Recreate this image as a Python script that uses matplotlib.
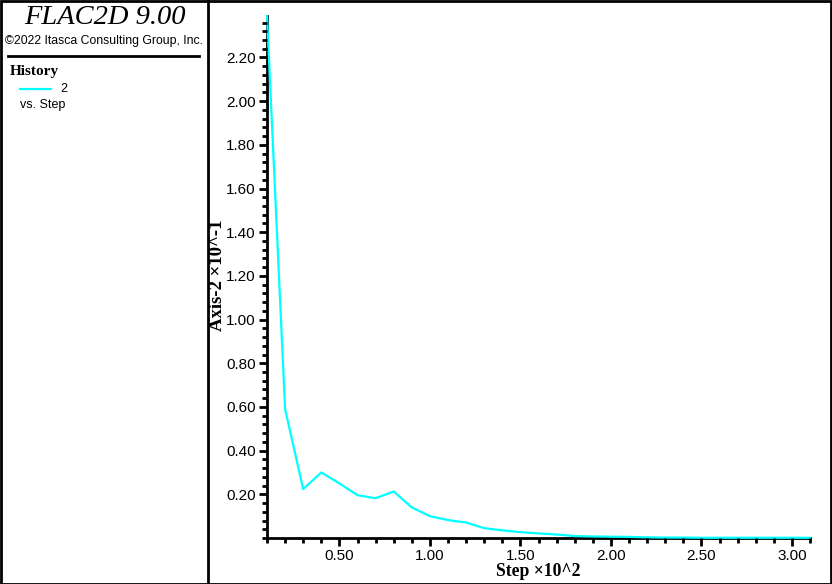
import matplotlib
matplotlib.use('Agg')
import matplotlib.pyplot as plt
from matplotlib.ticker import MultipleLocator, FixedLocator
from matplotlib.lines import Line2D

# history data: step (x10^2) and Axis-2 (x10^-1)
steps = [0.1, 0.2, 0.3, 0.4, 0.5, 0.6, 0.7, 0.8, 0.9, 1.0,
         1.1, 1.2, 1.3, 1.4, 1.5, 1.6, 1.7, 1.8, 1.9, 2.0,
         2.1, 2.2, 2.3, 2.4, 2.5, 2.6, 2.7, 2.8, 2.9, 3.0, 3.1]
axis2 = [2.39, 0.59, 0.224, 0.30, 0.25, 0.196, 0.182, 0.213, 0.14, 0.10,
         0.082, 0.071, 0.045, 0.035, 0.027, 0.021, 0.016, 0.009, 0.007, 0.006,
         0.005, 0.003, 0.002, 0.002, 0.001, 0.001, 0.001, 0.001, 0.001, 0.001, 0.001]
ytick_vals = [0.2, 0.4, 0.6, 0.8, 1.0, 1.2, 1.4, 1.6, 1.8, 2.0, 2.2]
xtick_vals = [0.5, 1.0, 1.5, 2.0, 2.5, 3.0]

W, H = 832, 584
fig = plt.figure(figsize=(W/100, H/100), dpi=100)
fig.patch.set_facecolor('white')

ax = fig.add_axes([267/W, 1-538/H, (810-267)/W, (538-16)/H])
ax.plot(steps, axis2, color='#00ffff', lw=1.6, clip_on=False, zorder=1)
ax.set_xlim(0.1, 3.1)
ax.set_ylim(0, 2.39)

for s in ['top', 'right']:
    ax.spines[s].set_visible(False)
for s in ['left', 'bottom']:
    ax.spines[s].set_linewidth(2)
    ax.spines[s].set_zorder(0)

ax.yaxis.set_major_locator(FixedLocator(ytick_vals))
ax.yaxis.set_minor_locator(MultipleLocator(0.04))
ax.xaxis.set_major_locator(FixedLocator(xtick_vals))
ax.xaxis.set_minor_locator(MultipleLocator(0.1))
ax.set_yticklabels(['%.2f' % v for v in ytick_vals])
ax.set_xticklabels(['%.2f' % v for v in xtick_vals])
ax.tick_params(which='major', direction='out', length=6, width=2,
               labelsize=11, pad=2)
ax.tick_params(which='minor', direction='out', length=3.5, width=2)
for lab in ax.get_xticklabels() + ax.get_yticklabels():
    lab.set_fontfamily('Liberation Sans')

# axis titles
fig.text(218/W, 1-275/H, 'Axis-2 \u00d710^-1', rotation=90, ha='center', va='center',
         fontfamily='Liberation Serif', fontweight='bold', fontsize=13.5)
fig.text(538/W, 1-572/H, 'Step \u00d710^2', ha='center', va='center',
         fontfamily='Liberation Serif', fontweight='bold', fontsize=12.7)

# left panel
fig.text(105/W, 1-18/H, 'FLAC2D 9.00', ha='center', va='center',
         fontfamily='Liberation Serif', style='italic', fontsize=20.5)
fig.text(104/W, 1-41/H, '\u00a92022 Itasca Consulting Group, Inc.', ha='center', va='center',
         fontfamily='Liberation Sans', fontsize=8.8)
fig.add_artist(Line2D([8/W, 199/W], [1-56/H, 1-56/H], color='black', lw=2))
fig.text(10/W, 1-72/H, 'History', ha='left', va='center',
         fontfamily='Liberation Serif', fontweight='bold', fontsize=11)
fig.add_artist(Line2D([20/W, 51/W], [1-89/H, 1-89/H], color='#00ffff', lw=1.6))
fig.text(60/W, 1-89/H, '2', ha='left', va='center',
         fontfamily='Liberation Sans', fontsize=9)
fig.text(20/W, 1-105/H, 'vs. Step', ha='left', va='center',
         fontfamily='Liberation Sans', fontsize=9)

# frame
fig.add_artist(Line2D([208/W, 208/W], [0, 1], color='black', lw=2))
fig.add_artist(plt.Rectangle((0.5/W, 0.5/H), 1-1.5/W, 1-1.5/H, fill=False,
                             edgecolor='black', lw=2, transform=fig.transFigure))

fig.savefig('out.png', dpi=100)
